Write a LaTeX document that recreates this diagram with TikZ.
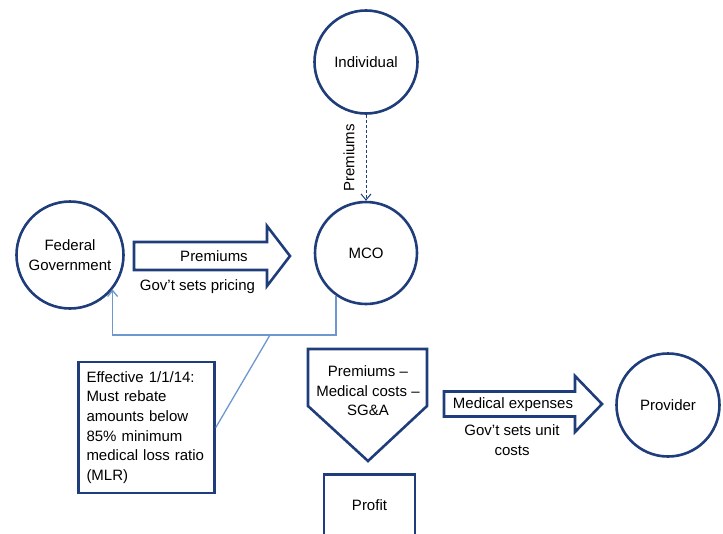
\documentclass[tikz,border=0pt]{standalone}
\usepackage{fontspec}
\setmainfont{Liberation Sans}
\usetikzlibrary{arrows.meta}
\definecolor{navy}{HTML}{1F3D7A}
\definecolor{steel}{HTML}{6C97CF}
\tikzset{
  circ/.style={circle,draw=navy,line width=2.6pt,inner sep=0pt,align=center},
  blk/.style={draw=navy,line width=2.6pt,line join=miter},
  sbox/.style={draw=navy,line width=2.6pt},
  fb/.style={draw=steel,line width=1.3pt},
  dsh/.style={draw=navy,line width=1pt,dash pattern=on 3pt off 2pt,-{Straight Barb[length=6pt,width=10pt]}},
  lbl/.style={align=center,inner sep=0pt},
}

\begin{document}
\begin{tikzpicture}[x=1pt,y=-1pt,font=\fontsize{15}{19.6}\selectfont]
\useasboundingbox (0,0) rectangle (723,533);
% the four parties
\node[circ,minimum size=103pt] (ind) at (366,62) {Individual};
\node[circ,minimum size=102pt] (mco) at (366,253) {MCO};
\node[circ,minimum size=107pt] (fed) at (70,255) {Federal\\Government};
\node[circ,minimum size=103pt] (prov) at (668,405) {Provider};
% individual premiums
\draw[dsh] (ind.south) -- node[midway,rotate=90,anchor=south,inner sep=11pt] (indlbl) {Premiums} (mco.north);
% government premiums
\draw[blk] (134,242) -- (267,242) -- (267,226) -- (290,256) -- (267,286) -- (267,270) -- (134,270) -- cycle;
\node[lbl] (premlbl) at (214,256) {Premiums};
\node[lbl] (pricing) at (197.5,287) {Gov't sets pricing};
% MLR rebate back to government
\coordinate (jn) at (270,335);
\draw[fb,-{Straight Barb[length=6pt,width=10pt]}] (mco.-125) |- (fed.-39 |- jn) -- (fed.-39);
\node[sbox,text width=120pt,align=left,inner xsep=8pt,minimum height=131pt] (mlr) at (146.5,427.5)
  {Effective 1/1/14:\\Must rebate\\amounts below\\85\% minimum\\medical loss ratio\\(MLR)};
\draw[fb] (jn) -- (mlr.east);
% what is left over
\draw[blk] (308,349) -- (427,349) -- (427,406) -- (368,461) -- (308,406) -- cycle;
\node[lbl] (calc) at (368,391) {Premiums --\\Medical costs --\\SG\&A};
\node[sbox,minimum width=91pt,minimum height=72pt,text depth=10pt,anchor=north] (profit) at (369.5,473) {Profit};
% payments to provider
\draw[blk] (444,391.5) -- (575,391.5) -- (575,376) -- (602,404) -- (575,432) -- (575,416.5) -- (444,416.5) -- cycle;
\node[lbl] (medlbl) at (513,405) {Medical expenses};
\node[lbl] (unit) at (512,440) {Gov't sets unit\\costs};
\end{tikzpicture}
\end{document}
